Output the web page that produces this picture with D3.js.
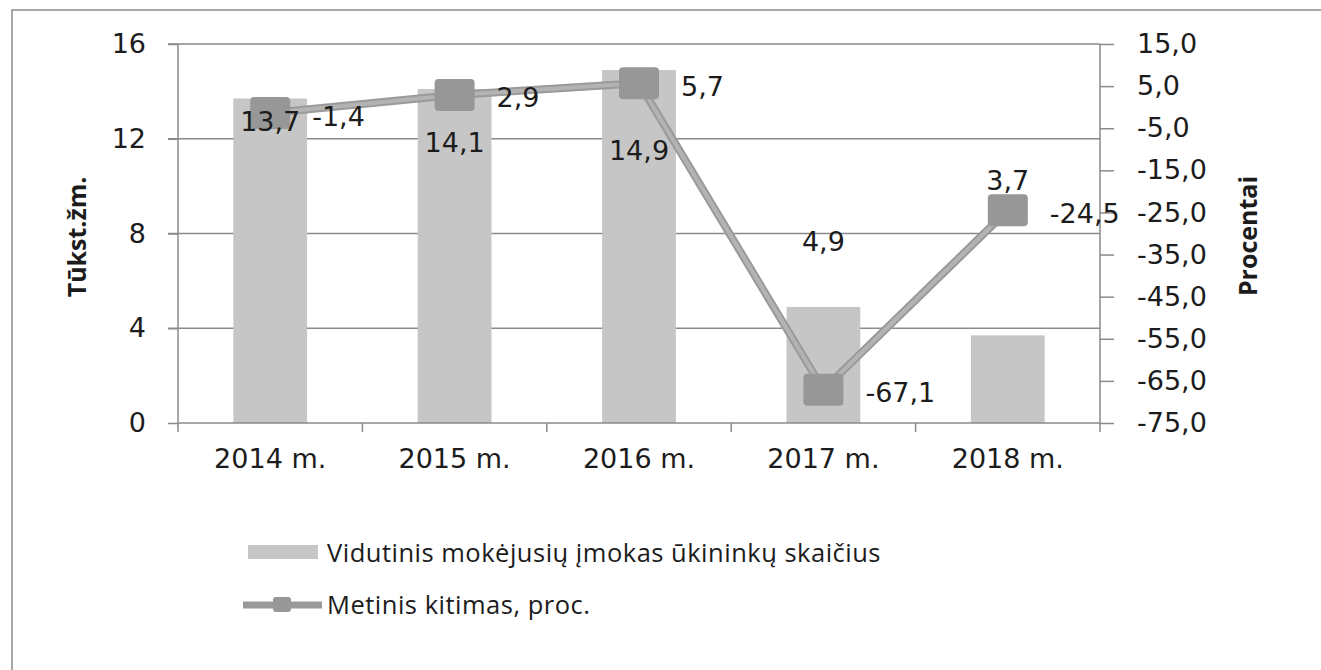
<!DOCTYPE html>
<html><head><meta charset="utf-8">
<script src="https://cdn.jsdelivr.net/npm/d3@7/dist/d3.min.js"></script>
<style>body{margin:0;background:#fff}svg{display:block}</style>
</head><body>
<svg id="c" width="1321" height="670"></svg>
<script>
const categories = ["2014 m.", "2015 m.", "2016 m.", "2017 m.", "2018 m."];
const farmers = [13.7, 14.1, 14.9, 4.9, 3.7];           // Tūkst. žm.
const change = [-1.4, 2.9, 5.7, -67.1, -24.5];           // Procentai
const leftTicks = [0, 4, 8, 12, 16];
const rightTicks = [15, 5, -5, -15, -25, -35, -45, -55, -65, -75];
const seriesNames = ["Vidutinis mokėjusių įmokas ūkininkų skaičius", "Metinis kitimas, proc."];

// manual label placement offsets (px from bar top), as in the original
const barLabelDy = [23, 53, 80, -65, -155];

const svg = d3.select("#c");
const L = 178, R = 1100, T = 44, B = 423;
const x = d3.scaleBand().domain(categories).range([L, R]).paddingInner(0).paddingOuter(0);
const yL = d3.scaleLinear().domain([0, 16]).range([B, T]);
const yR = d3.scaleLinear().domain([-75, 15]).range([B, T]);
const fmt = v => v.toFixed(1).replace(".", ",");
const fmtL = v => String(v).replace(".", ",");
const axisCol = "#8a8a8a", txt = "#1c1c1c";
const tickFont = "DejaVu Sans";

// outer border
svg.append("path").attr("d", `M12,672 L12,10 L1325,10`).attr("fill", "none")
  .attr("stroke", "#8c8c8c").attr("stroke-width", 1.5);

// gridlines
svg.append("g").selectAll("line").data(leftTicks.filter(d => d > 0)).join("line")
  .attr("x1", L - 10).attr("x2", R).attr("y1", d => yL(d)).attr("y2", d => yL(d))
  .attr("stroke", axisCol).attr("stroke-width", 1.5);

// left axis
const gL = svg.append("g").attr("transform", `translate(${L},0)`)
  .call(d3.axisLeft(yL).tickValues(leftTicks).tickSize(10).tickPadding(22).tickFormat(fmtL));
gL.select(".domain").remove();
gL.selectAll(".tick line").attr("stroke", axisCol).attr("stroke-width", 1.5);
gL.selectAll(".tick text").attr("font-family", tickFont).attr("font-size", 27).attr("fill", txt);
svg.append("line").attr("x1", L).attr("x2", L).attr("y1", T).attr("y2", B + 9)
  .attr("stroke", axisCol).attr("stroke-width", 1.5);

// right axis
const gR = svg.append("g").attr("transform", `translate(${R},0)`)
  .call(d3.axisRight(yR).tickValues(rightTicks).tickSize(14).tickPadding(23).tickFormat(fmt));
gR.select(".domain").remove();
gR.selectAll(".tick line").attr("stroke", axisCol).attr("stroke-width", 1.5);
gR.selectAll(".tick text").attr("font-family", tickFont).attr("font-size", 27).attr("fill", txt);
svg.append("line").attr("x1", R).attr("x2", R).attr("y1", T).attr("y2", B + 9)
  .attr("stroke", axisCol).attr("stroke-width", 1.5);

// bars
svg.append("g").selectAll("rect").data(farmers).join("rect")
  .attr("x", (d, i) => x(categories[i]) + x.bandwidth() * 0.3)
  .attr("width", x.bandwidth() * 0.4)
  .attr("y", d => yL(d)).attr("height", d => yL(0) - yL(d))
  .attr("fill", "#c6c6c6");

// x axis
svg.append("line").attr("x1", L).attr("x2", R).attr("y1", B).attr("y2", B)
  .attr("stroke", axisCol).attr("stroke-width", 1.5);
const bounds = categories.slice(1).map(c => x(c));
svg.append("g").selectAll("line").data(bounds).join("line")
  .attr("x1", d => d).attr("x2", d => d).attr("y1", B).attr("y2", B + 9)
  .attr("stroke", axisCol).attr("stroke-width", 1.5);
const gX = svg.append("g").attr("transform", `translate(0,${B})`)
  .call(d3.axisBottom(x).tickSize(0).tickPadding(26));
gX.select(".domain").remove();
gX.selectAll(".tick text").attr("font-family", tickFont).attr("font-size", 27).attr("fill", txt);

// line series
const cx = i => x(categories[i]) + x.bandwidth() / 2;
const line = d3.line().x((d, i) => cx(i)).y(d => yR(d));
svg.append("path").datum(change).attr("d", line).attr("fill", "none")
  .attr("stroke", "#9a9a9a").attr("stroke-width", 8).attr("stroke-linejoin", "round");
svg.append("path").datum(change).attr("d", line).attr("fill", "none")
  .attr("stroke", "#b3b3b3").attr("stroke-width", 4).attr("stroke-linejoin", "round");
const mw = 40, mh = 32;
svg.append("g").selectAll("rect").data(change).join("rect")
  .attr("x", (d, i) => cx(i) - mw / 2).attr("y", d => yR(d) - mh / 2)
  .attr("width", mw).attr("height", mh).attr("rx", 4)
  .attr("fill", "#979797");

// bar labels
svg.append("g").selectAll("text").data(farmers).join("text")
  .attr("x", (d, i) => cx(i)).attr("y", (d, i) => yL(d) + barLabelDy[i])
  .attr("text-anchor", "middle").attr("dominant-baseline", "central")
  .attr("font-family", tickFont).attr("font-size", 27).attr("fill", txt)
  .text(fmtL);

// line labels (right of marker)
svg.append("g").selectAll("text").data(change).join("text")
  .attr("x", (d, i) => cx(i) + 42).attr("y", d => yR(d) + 3)
  .attr("dominant-baseline", "central")
  .attr("font-family", tickFont).attr("font-size", 27).attr("fill", txt)
  .text(fmtL);

// axis titles
svg.append("text").attr("transform", `translate(86,237) rotate(-90)`)
  .attr("text-anchor", "middle").attr("font-family", "Open Sans").attr("font-weight", "bold")
  .attr("font-size", 25).attr("fill", txt).text("Tūkst.žm.");
svg.append("text").attr("transform", `translate(1257,236) rotate(-90)`)
  .attr("text-anchor", "middle").attr("font-family", "Open Sans").attr("font-weight", "bold")
  .attr("font-size", 25).attr("fill", txt).text("Procentai");

// legend
const lg = svg.append("g");
lg.append("rect").attr("x", 248).attr("y", 545).attr("width", 70).attr("height", 14).attr("fill", "#c6c6c6");
lg.append("text").attr("x", 327).attr("y", 552).attr("dominant-baseline", "central")
  .attr("font-family", "Open Sans").attr("font-size", 25.5).attr("letter-spacing", 0.5)
  .attr("fill", txt).text(seriesNames[0]);
lg.append("line").attr("x1", 243).attr("x2", 322).attr("y1", 605).attr("y2", 605)
  .attr("stroke", "#9a9a9a").attr("stroke-width", 7);
lg.append("rect").attr("x", 273).attr("y", 597).attr("width", 18).attr("height", 15).attr("rx", 3).attr("fill", "#979797");
lg.append("text").attr("x", 327).attr("y", 604).attr("dominant-baseline", "central")
  .attr("font-family", "Open Sans").attr("font-size", 25.5).attr("letter-spacing", 0.5)
  .attr("fill", txt).text(seriesNames[1]);
</script>
</body></html>
